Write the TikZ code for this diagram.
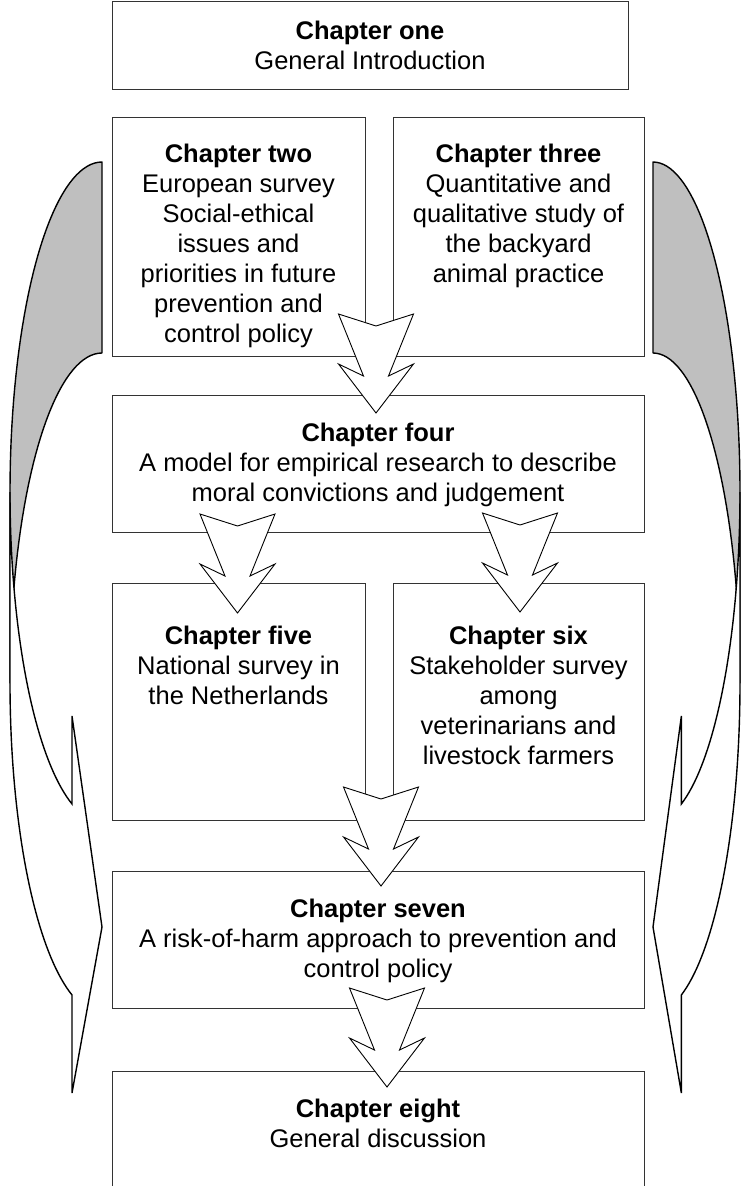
\documentclass[tikz,border=0pt]{standalone}
\usepackage{fontspec}
\setmainfont{Liberation Sans}
\begin{document}
\begin{tikzpicture}[x=1pt,y=-1pt,
  box/.style={draw=black!80, line width=1pt, inner sep=0pt, outer sep=0pt},
  lbl/.style={anchor=north, inner sep=0pt, align=center, font=\fontsize{25.5}{30}\selectfont},
  blockarrow/.style={draw=black, fill=white, line width=0.9pt, line join=miter},
  backpart/.style={draw=black, fill=black!25, line width=1.4pt, line join=round},
  frontpart/.style={draw=black, fill=white, line width=1.4pt, line join=miter},
  sideL/.style={},
  sideR/.style={xshift=749.46pt, xscale=-0.9457}]
\useasboundingbox (0,0) rectangle (741,1186);

% boxes
\node[box, minimum width=516pt, minimum height=88pt]  (c1) at (370,45) {};
\node[box, minimum width=253pt, minimum height=239pt] (c2) at (238.5,236.5) {};
\node[box, minimum width=251pt, minimum height=239pt] (c3) at (518.5,236.5) {};
\node[box, minimum width=532pt, minimum height=137pt] (c4) at (378,463.5) {};
\node[box, minimum width=253pt, minimum height=237pt] (c5) at (238.5,701.5) {};
\node[box, minimum width=251pt, minimum height=237pt] (c6) at (518.5,701.5) {};
\node[box, minimum width=532pt, minimum height=137pt] (c7) at (378,939.5) {};
\node[box, minimum width=532pt, minimum height=140pt] (c8) at (378,1141) {};

% texts
\node[lbl] (t1) at (370,20.7) {\textbf{Chapter one}\\General Introduction};
\node[lbl] (t2) at (238.5,143.7) {\textbf{Chapter two}\\European survey\\Social-ethical\\issues and\\priorities in future\\prevention and\\control policy};
\node[lbl] (t3) at (518.5,143.7) {\textbf{Chapter three}\\Quantitative and\\qualitative study of\\the backyard\\animal practice};
\node[lbl] (t4) at (378,422.7) {\textbf{Chapter four}\\A model for empirical research to describe\\moral convictions and judgement};
\node[lbl] (t5) at (238.5,625.7) {\textbf{Chapter five}\\National survey in\\the Netherlands};
\node[lbl] (t6) at (518.5,625.7) {\textbf{Chapter six}\\Stakeholder survey\\among\\veterinarians and\\livestock farmers};
\node[lbl] (t7) at (378,898.7) {\textbf{Chapter seven}\\A risk-of-harm approach to prevention and\\control policy};
\node[lbl] (t8) at (378,1098.7) {\textbf{Chapter eight}\\General discussion};

% block arrows
\foreach \cx/\cy in {376/314, 237.5/514, 520/513, 381/787, 387/988}{
  \draw[blockarrow, shift={(\cx,\cy)}]
    (-37.5,0) -- (0,12) -- (37.5,0) -- (12.5,62) -- (37.5,50) -- (0,99)
    -- (-37.5,50) -- (-12.5,62) -- cycle;
}

% curved side arrows (left, and mirrored right)
\foreach \tr in {sideL, sideR}{
  \begin{scope}[\tr]
    \draw[backpart] (102,353)
      -- plot[domain=270:180, samples=40] ({102+92*cos(\x)},{683+330*sin(\x)})
      -- (10,492)
      -- plot[domain=180:270, samples=40] ({102+92*cos(\x)},{492+330*sin(\x)})
      -- cycle;
    \draw[frontpart] (10,492)
      -- plot[domain=180:109.03, samples=40] ({102+92*cos(\x)},{492+330*sin(\x)})
      -- (72,716) -- (102,927) -- (72,1093) -- (72,995)
      -- plot[domain=109.03:180, samples=40] ({102+92*cos(\x)},{683+330*sin(\x)})
      -- cycle;
  \end{scope}
}
\end{tikzpicture}
\end{document}
